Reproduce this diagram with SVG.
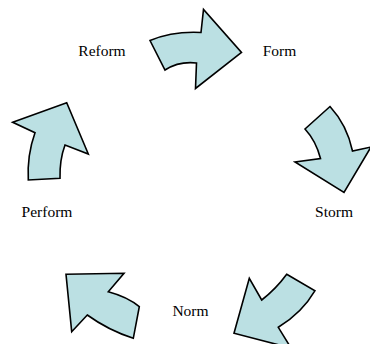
<svg xmlns="http://www.w3.org/2000/svg" width="370" height="344" viewBox="0 0 370 344">
<style>
.arrow{fill:#bbe0e3;stroke:#000;stroke-width:1.6;stroke-linejoin:miter}
.lbl{font-family:"Liberation Serif","Times New Roman",serif;font-size:15.5px;fill:#000;text-anchor:middle}
</style>
<rect width="370" height="344" fill="#fff"/>
<g id="connectors">
<path id="arrow-reform-form" class="arrow" d="M150,40.5 Q173,31 201,32.5 L203.5,9.5 L241.5,52.5 L195.5,88.5 L196.5,63 Q179,61 165,70 Z"/>
<path id="arrow-form-storm" class="arrow" d="M330,106.5 Q347,125 352.5,151 L371,147 L344,192.5 L295,162 L320.5,158.5 Q316,141 305,129 Z"/>
<path id="arrow-storm-norm" class="arrow" d="M286.7,274.3 L315,290.7 Q302,313 278.3,327.3 L291,348 L234,333.3 L249.3,278.3 L261.7,300 Q276,289 286.7,274.3 Z"/>
<path id="arrow-norm-perform" class="arrow" d="M66,274.3 L124,273.3 L108.3,291.7 Q128,297 139.3,306.7 L133.3,338.3 Q108,330 87.3,315 L71.7,331.7 Z"/>
<path id="arrow-perform-reform" class="arrow" d="M12.7,122.3 L66.7,102.7 L88.3,154 L65,145 Q59.5,160 60,178.3 L28.3,180 Q27,155 35,132.7 Z"/>
</g>
<g id="node-reform"><text class="lbl" x="102" y="56">Reform</text></g>
<g id="node-form"><text class="lbl" x="279.5" y="56">Form</text></g>
<g id="node-storm"><text class="lbl" x="334" y="216.5">Storm</text></g>
<g id="node-norm"><text class="lbl" x="190.5" y="315.5">Norm</text></g>
<g id="node-perform"><text class="lbl" x="47" y="216.5">Perform</text></g>
</svg>
